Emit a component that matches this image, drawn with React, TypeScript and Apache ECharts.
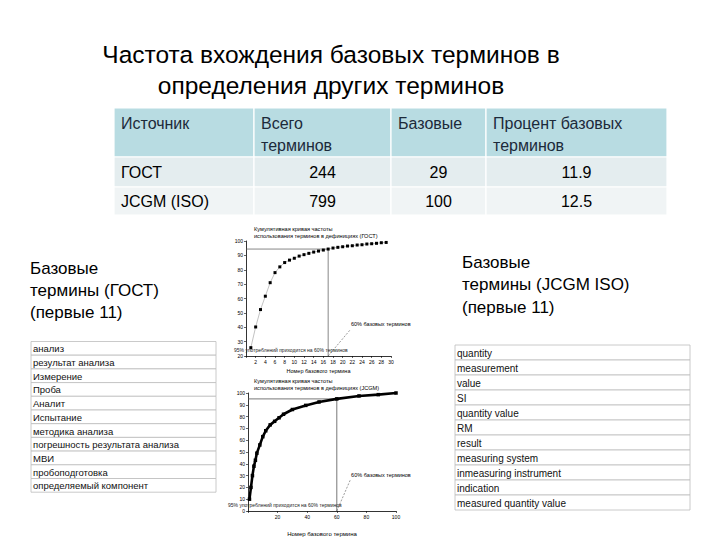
import React, { useEffect, useRef } from "react";
import * as echarts from "echarts";

const titleLines = ["Частота вхождения базовых терминов в", "определения других терминов"];
const tableHeaders = ["Источник", "Всего\nтерминов", "Базовые", "Процент базовых\nтерминов"];
const sources = ["ГОСТ", "JCGM (ISO)"];
const totalTerms = [244, 799];
const baseTerms = [29, 100];
const basePercent = ["11.9", "12.5"];

const gostLabel = ["Базовые", "термины (ГОСТ)", "(первые 11)"];
const jcgmLabel = ["Базовые", "термины (JCGM ISO)", "(первые 11)"];
const gostTerms = [
  "анализ",
  "результат анализа",
  "Измерение",
  "Проба",
  "Аналит",
  "Испытание",
  "методика анализа",
  "погрешность результата анализа",
  "МВИ",
  "пробоподготовка",
  "определяемый компонент",
];
const jcgmTerms = [
  "quantity",
  "measurement",
  "value",
  "SI",
  "quantity value",
  "RM",
  "result",
  "measuring system",
  "inmeasuring instrument",
  "indication",
  "measured quantity value",
];

const gostRank = [1, 2, 3, 4, 5, 6, 7, 8, 9, 10, 11, 12, 13, 14, 15, 16, 17, 18, 19, 20, 21, 22, 23, 24, 25, 26, 27, 28, 29];
const gostCum = [25.8, 40.2, 52.3, 61.6, 71, 78, 82, 85, 86.7, 88, 89.5, 90.5, 91.4, 92.3, 93, 93.7, 94.4, 95.1, 95.6, 96, 96.5, 96.7, 97.2, 97.4, 97.9, 98.1, 98.4, 98.8, 99];
const jcgmRank = [1, 2, 3, 4, 5, 6, 8, 10, 12, 15, 18, 21, 24, 30, 39, 48, 60, 75, 88, 100];
const jcgmCum = [10, 20, 30, 38, 43, 49, 56, 63, 68, 73, 76, 79, 82, 86, 89.5, 92.4, 95, 97.5, 98.6, 100];

const gostCut = [[0, 94.4], [17, 94.4], [17, 20]];
const jcgmCut = [[0, 95], [60, 95], [60, 0]];
const gostNote = [[17, 20], [21.5, 38]];
const jcgmNote = [[60, 0], [69, 26]];

const chartTitles = [
  ["Кумулятивная кривая частоты", "использования терминов в дефинициях (ГОСТ)"],
  ["Кумулятивная кривая частоты", "использования терминов в дефинициях (JCGM)"],
];
const noteText = "60% базовых терминов";
const bottomNote = "95% употреблений приходится на 60% терминов";
const axisName = "Номер базового термина";

const FONT = "Liberation Sans, Arial, sans-serif";

export default function App() {
  const ref = useRef<HTMLDivElement>(null);
  useEffect(() => {
    if (!ref.current) return;
    const chart = echarts.init(ref.current, undefined, { renderer: "svg" });
    const els: any[] = [];
    const txt = (text: string, x: number, y: number, size: number, extra: any = {}) => {
      els.push({
        type: "text",
        silent: true,
        z: 10,
        style: {
          text,
          x,
          y,
          fontSize: size,
          fontFamily: FONT,
          fill: extra.fill || "#000",
          align: extra.align || "left",
          verticalAlign: extra.verticalAlign || "middle",
        },
      });
    };
    // title
    txt(titleLines[0], 331, 54, 24.5, { align: "center" });
    txt(titleLines[1], 331, 85, 24.5, { align: "center" });

    // table
    const colX = [114, 254, 391, 486, 667];
    const rowY = [108, 157, 187, 215];
    const rowFill = ["#b8dce2", "#e4edef", "#f0f4f5"];
    for (let r = 0; r < 3; r++) {
      for (let c = 0; c < 4; c++) {
        els.push({
          type: "rect",
          silent: true,
          shape: { x: colX[c], y: rowY[r], width: colX[c + 1] - colX[c], height: rowY[r + 1] - rowY[r] },
          style: { fill: rowFill[r], stroke: "#fff", lineWidth: 1.2 },
        });
      }
    }
    tableHeaders.forEach((h, c) => {
      h.split("\n").forEach((line, k) => {
        txt(line, colX[c] + 7, 123 + k * 22, 16, { fill: "#1c2a3a" });
      });
    });
    sources.forEach((s, r) => {
      const cy = (rowY[r + 1] + rowY[r + 2]) / 2;
      txt(s, colX[0] + 7, cy, 16);
      txt(String(totalTerms[r]), (colX[1] + colX[2]) / 2, cy, 16, { align: "center" });
      txt(String(baseTerms[r]), (colX[2] + colX[3]) / 2, cy, 16, { align: "center" });
      txt(basePercent[r], (colX[3] + colX[4]) / 2, cy, 16, { align: "center" });
    });

    // side labels
    gostLabel.forEach((l, i) => txt(l, 30, 268 + i * 22, 17));
    jcgmLabel.forEach((l, i) => txt(l, 462, 262 + i * 22.5, 17));

    // lists
    const list = (items: string[], x0: number, x1: number, y0: number, h: number, size: number) => {
      items.forEach((t, i) => {
        els.push({
          type: "rect",
          silent: true,
          shape: { x: x0, y: y0 + i * h, width: x1 - x0, height: h },
          style: { fill: "#fff", stroke: "#bdbdbd", lineWidth: 0.8 },
        });
        txt(t, x0 + 2, y0 + i * h + h / 2 + 0.5, size, { fill: "#111" });
      });
    };
    list(gostTerms, 31, 216, 341.5, 13.7, 9.5);
    list(jcgmTerms, 455, 690, 345, 15, 10);

    // chart titles and notes
    txt(chartTitles[0][0], 254, 229, 5.6);
    txt(chartTitles[0][1], 254, 236, 5.6);
    txt(chartTitles[1][0], 254, 381, 5.6);
    txt(chartTitles[1][1], 254, 388, 5.6);
    txt(bottomNote, 234, 350, 5, { fill: "#222" });
    txt(bottomNote, 228, 505, 5, { fill: "#222" });

    const axisCommon = {
      type: "value" as const,
      axisLine: { show: true, lineStyle: { color: "#000", width: 0.8 } },
      axisTick: { show: true, length: 2, lineStyle: { color: "#000", width: 0.6 } },
      splitLine: { show: false },
      axisLabel: { fontSize: 5, color: "#000", margin: 3, fontFamily: FONT },
    };
    const pairs = (xs: number[], ys: number[]) => xs.map((x, i) => [x, ys[i]]);

    chart.setOption({
      animation: false,
      backgroundColor: "#fff",
      grid: [
        { left: 246, top: 241, width: 145, height: 115, containLabel: false, outerBoundsMode: "none" },
        { left: 248, top: 393, width: 148, height: 118, containLabel: false, outerBoundsMode: "none" },
      ],
      xAxis: [
        {
          ...axisCommon,
          gridIndex: 0,
          min: 0,
          max: 30,
          interval: 2,
          name: axisName,
          nameLocation: "middle",
          nameGap: 12,
          nameTextStyle: { fontSize: 5.5, color: "#000", fontFamily: FONT },
          axisLabel: { ...axisCommon.axisLabel, formatter: (v: number) => (v === 0 ? "" : String(v)) },
        },
        {
          ...axisCommon,
          gridIndex: 1,
          min: 0,
          max: 100,
          interval: 20,
          name: axisName,
          nameLocation: "middle",
          nameGap: 20,
          nameTextStyle: { fontSize: 6, color: "#000", fontFamily: FONT },
          axisLabel: { ...axisCommon.axisLabel, formatter: (v: number) => (v === 0 ? "" : String(v)) },
        },
      ],
      yAxis: [
        { ...axisCommon, gridIndex: 0, min: 20, max: 100, interval: 10 },
        { ...axisCommon, gridIndex: 1, min: 0, max: 100, interval: 10 },
      ],
      series: [
        {
          type: "line",
          xAxisIndex: 0,
          yAxisIndex: 0,
          data: gostCut,
          symbol: "none",
          lineStyle: { color: "#555", width: 0.7 },
          silent: true,
        },
        {
          type: "line",
          xAxisIndex: 0,
          yAxisIndex: 0,
          data: gostNote,
          symbol: "none",
          lineStyle: { color: "#555", width: 0.6, type: [2, 1.5] },
          silent: true,
          endLabel: {
            show: true,
            formatter: noteText,
            fontSize: 5.5,
            color: "#000",
            fontFamily: FONT,
            distance: 1,
            offset: [0, -6],
          },
        },
        {
          type: "line",
          xAxisIndex: 0,
          yAxisIndex: 0,
          data: pairs(gostRank, gostCum),
          symbol: "rect",
          symbolSize: 3,
          itemStyle: { color: "#000" },
          lineStyle: { color: "#999", width: 0.6 },
          silent: true,
        },
        {
          type: "line",
          xAxisIndex: 1,
          yAxisIndex: 1,
          data: jcgmCut,
          symbol: "none",
          lineStyle: { color: "#555", width: 0.8 },
          silent: true,
        },
        {
          type: "line",
          xAxisIndex: 1,
          yAxisIndex: 1,
          data: jcgmNote,
          symbol: "none",
          lineStyle: { color: "#555", width: 0.6, type: [2, 1.5] },
          silent: true,
          endLabel: {
            show: true,
            formatter: noteText,
            fontSize: 5.5,
            color: "#000",
            fontFamily: FONT,
            distance: 1,
            offset: [0, -5],
          },
        },
        {
          type: "line",
          xAxisIndex: 1,
          yAxisIndex: 1,
          data: pairs(jcgmRank, jcgmCum),
          symbol: "rect",
          symbolSize: 3.5,
          itemStyle: { color: "#000" },
          lineStyle: { color: "#000", width: 2.6 },
          silent: true,
        },
      ],
      graphic: { elements: els },
    });
    return () => chart.dispose();
  }, []);
  return (
    <div
      ref={ref}
      style={{ position: "absolute", left: 0, top: 0, width: 720, height: 540, background: "#fff" }}
    />
  );
}
